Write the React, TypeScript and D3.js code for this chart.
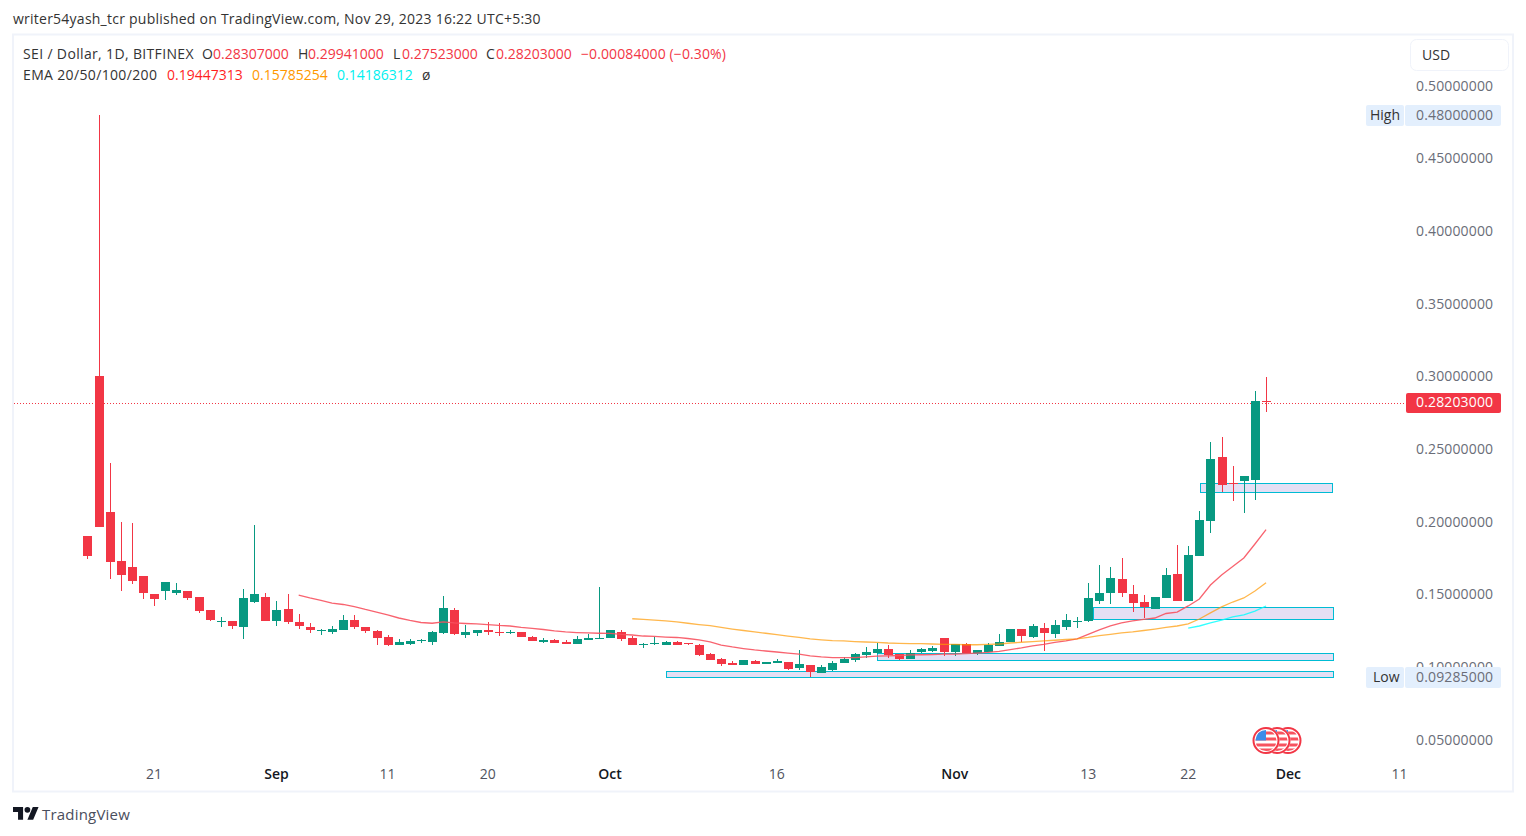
import React from 'react';
import * as d3 from 'd3';

// daily candles, Aug 15 to Nov 29 2023
const opens = [
  .1901, .3001, .2065, .1728, .1687, .1625, .1501, .1522, .1508, .1522, .1481, .1391, .1308, .1315, .1274, .1446, .1481, .1315, .1398, .1308,
  .1274, .1246, .1239, .1253, .1322, .1274, .1246, .1205, .1150, .1157, .1178, .1171, .1232, .1391, .1219, .1232, .1253, .1240, .1232, .1240,
  .1205, .1171, .1185, .1171, .1157, .1185, .1192, .1198, .1240, .1198, .1150, .1157, .1150, .1171, .1164, .1150, .1088, .1054, .1026, .1013,
  .1040, .1020, .1026, .1033, .0992, .1013, .0957, .0978, .1026, .1047, .1081, .1095, .1123, .1088, .1054, .1102, .1109, .1198, .1102, .1157,
  .1095, .1102, .1143, .1171, .1260, .1205, .1267, .1226, .1274, .1308, .1315, .1453, .1508, .1605, .1501, .1446, .1398, .1474, .1639, .1453,
  .1763, .2003, .2444, .2265, .2279, .2286, .28307,
];
const highs = [
  .1901, .4800, .2403, .1996, .1990, .1625, .1501, .1584, .1577, .1522, .1481, .1391, .1343, .1315, .1536, .1976, .1508, .1453, .1501, .1364,
  .1302, .1260, .1281, .1357, .1357, .1274, .1253, .1219, .1192, .1192, .1192, .1246, .1487, .1405, .1288, .1253, .1308, .1302, .1253, .1240,
  .1212, .1198, .1192, .1185, .1212, .1226, .1550, .1253, .1253, .1212, .1164, .1205, .1178, .1178, .1164, .1157, .1095, .1061, .1040, .1047,
  .1047, .1033, .1054, .1033, .1116, .1013, .1013, .1040, .1068, .1095, .1136, .1164, .1150, .1088, .1116, .1129, .1143, .1198, .1157, .1164,
  .1116, .1164, .1226, .1260, .1260, .1295, .1302, .1322, .1364, .1343, .1577, .1701, .1687, .1749, .1563, .1494, .1481, .1680, .1838, .1832,
  .2072, .2547, .2582, .2382, .2313, .2899, .29941,
];
const lows = [
  .1742, .1963, .1605, .1522, .1570, .1467, .1419, .1460, .1494, .1460, .1371, .1315, .1274, .1260, .1192, .1439, .1315, .1281, .1295, .1260,
  .1232, .1219, .1226, .1253, .1260, .1232, .1150, .1143, .1150, .1150, .1164, .1150, .1226, .1219, .1198, .1212, .1219, .1212, .1226, .1205,
  .1178, .1164, .1164, .1157, .1157, .1185, .1192, .1198, .1178, .1150, .1129, .1150, .1150, .1150, .1150, .1075, .1047, .1006, .1013, .1013,
  .1020, .1020, .1026, .0978, .0978, .0929, .0957, .0971, .1026, .1033, .1061, .1088, .1061, .1047, .1054, .1095, .1102, .1075, .1075, .1095,
  .1081, .1102, .1143, .1171, .1171, .1198, .1109, .1198, .1253, .1267, .1308, .1432, .1432, .1481, .1377, .1336, .1398, .1474, .1453, .1453,
  .1763, .1921, .2203, .2141, .2058, .2148, .27523,
];
const closes = [
  .1763, .1963, .1721, .1632, .1591, .1508, .1467, .1584, .1529, .1474, .1384, .1322, .1315, .1281, .1474, .1501, .1315, .1391, .1308, .1281,
  .1253, .1253, .1260, .1322, .1274, .1246, .1198, .1150, .1171, .1178, .1185, .1240, .1405, .1226, .1240, .1253, .1240, .1232, .1240, .1205,
  .1178, .1185, .1164, .1157, .1192, .1198, .1198, .1253, .1192, .1150, .1157, .1164, .1171, .1150, .1157, .1081, .1047, .1020, .1013, .1047,
  .1020, .1033, .1040, .0985, .1020, .0964, .0999, .1026, .1054, .1088, .1102, .1123, .1081, .1054, .1095, .1123, .1129, .1102, .1157, .1095,
  .1116, .1150, .1171, .1260, .1212, .1281, .1232, .1288, .1322, .1315, .1474, .1508, .1611, .1508, .1439, .1412, .1481, .1632, .1453, .1770,
  .2010, .2430, .2252, .2258, .2313, .2830, .28203,
];

// EMA values start part way through the candles
const ema20Start = 19;
const ema20 = [
  .1494, .1474, .1457, .1439, .1429, .1415, .1395, .1377, .1357, .1336, .1319, .1305, .1300, .1309, .1302, .1298, .1295, .1291, .1285, .1281,
  .1271, .1264, .1257, .1247, .1240, .1236, .1233, .1231, .1230, .1223, .1219, .1212, .1209, .1205, .1202, .1195, .1185, .1171, .1150, .1137,
  .1126, .1116, .1109, .1102, .1095, .1088, .1075, .1068, .1064, .1063, .1064, .1069, .1073, .1076, .1078, .1082, .1083, .1084, .1088, .1088,
  .1091, .1095, .1099, .1106, .1119, .1130, .1144, .1154, .1168, .1178, .1192, .1223, .1254, .1281, .1302, .1316, .1326, .1336, .1367, .1377,
  .1419, .1467, .1563, .1632, .1690, .1749, .1845, .19447313,
];
const ema50Start = 49;
const ema50 = [
  .1331, .1326, .1321, .1316, .1309, .1300, .1291, .1283, .1271, .1260, .1250, .1240, .1231, .1221, .1212, .1202, .1192, .1186, .1181, .1178,
  .1174, .1171, .1168, .1164, .1162, .1160, .1159, .1157, .1155, .1154, .1152, .1152, .1155, .1157, .1164, .1169, .1174, .1178, .1183, .1188,
  .1193, .1202, .1215, .1224, .1233, .1240, .1250, .1260, .1271, .1281, .1295, .1329, .1371, .1412, .1446, .1474, .1522, .15785254,
];
const ema100Start = 99;
const ema100 = [.1267, .1281, .1302, .1322, .1343, .1357, .1384, .14186312];

// drawn support zones: first day, last day, upper price, lower price
const zoneStarts = [100.1, 90.4, 71, 52];
const zoneEnds = [112, 112, 112, 112];
const zoneTops = [.2265, .1411, .1092, .0969];
const zoneBottoms = [.2203, .1329, .1042, .0928];

const priceTicks = [.05, .10, .15, .20, .25, .30, .35, .40, .45, .50];
const timeTickDays = [6, 17, 27, 36, 47, 62, 78, 90, 99, 108, 118];
const timeTickLabels = ['21', 'Sep', '11', '20', 'Oct', '16', 'Nov', '13', '22', 'Dec', '11'];
const boldTimeTicks = ['Sep', 'Oct', 'Nov', 'Dec'];

const lastClose = .28203;
const highPrice = .48;
const lowPrice = .09285;

const UP = '#089981';
const DOWN = '#f23645';
const FONT = '"Open Sans", sans-serif';
const TICK_COLOR = '#6a6d78';

const x = d3.scaleLinear().domain([0, 118]).range([87.4, 1399.5]);
const y = d3.scaleLinear().domain([.05, .5]).range([739.5, 85.5]);
const fmt = d3.format('.8f');
const snap = (v: number) => Math.round(v) + 0.5;

const emaLine = (start: number) =>
  d3.line<number>().x((_, i) => x(start + i)).y(d => y(d));

function Label({ px, py, fill = TICK_COLOR, anchor = 'start', weight = 400, size = 14, spacing = 0, children }: any) {
  return (
    <text x={px} y={py} fill={fill} textAnchor={anchor} fontWeight={weight} fontSize={size} fontFamily={FONT} letterSpacing={spacing}>
      {children}
    </text>
  );
}

function Flag({ cx, id }: { cx: number; id: string }) {
  const cy = 740.5;
  return (
    <g>
      <clipPath id={id}><circle cx={cx} cy={cy} r={10.5} /></clipPath>
      <circle cx={cx} cy={cy} r={13.5} fill="#fff" />
      <circle cx={cx} cy={cy} r={12.5} fill="#fff" stroke={DOWN} strokeWidth={2} />
      <g clipPath={`url(#${id})`}>
        {[-9, -3, 3, 8].map(d => (
          <rect key={d} x={cx - 12} y={cy + d} width={24} height={3} fill="#f7525f" />
        ))}
        <rect x={cx - 12} y={cy - 12} width={12} height={12} fill="#3d8ce8" />
      </g>
    </g>
  );
}

export default function App() {
  return (
    <svg width={1526} height={836} style={{ position: 'absolute', left: 0, top: 0, display: 'block', background: '#fff' }}>
      <Label px={13} py={24} fill="#333" spacing={0.24}>writer54yash_tcr published on TradingView.com, Nov 29, 2023 16:22 UTC+5:30</Label>
      <rect x={13} y={34.5} width={1500} height={757} fill="none" stroke="#f0f3fa" strokeWidth={2} />

      {/* zones sit under the candles */}
      {zoneStarts.map((s, i) => (
        <rect key={i} x={snap(x(s))} y={snap(y(zoneTops[i]))}
          width={Math.round(x(zoneEnds[i]) - x(s))} height={Math.round(y(zoneBottoms[i]) - y(zoneTops[i]))}
          fill="#e4dff4" stroke="#00bcd4" strokeWidth={1} />
      ))}

      {/* last price line */}
      <line x1={14} x2={1405} y1={403.5} y2={403.5} stroke={DOWN} strokeWidth={1} strokeDasharray="1,2" />

      {closes.map((c, i) => {
        const color = c >= opens[i] ? UP : DOWN;
        const cx = Math.round(x(i));
        const top = Math.round(y(Math.max(opens[i], c)));
        const bottom = Math.round(y(Math.min(opens[i], c)) + 0.2);
        const hi = Math.round(y(highs[i]));
        const lo = Math.round(y(lows[i]));
        return (
          <g key={i}>
            <rect x={cx} y={hi} width={1} height={lo - hi} fill={color} />
            <rect x={cx - 4} y={top} width={9} height={Math.max(1, bottom - top)} fill={color} />
          </g>
        );
      })}

      <path d={emaLine(ema20Start)(ema20)!} fill="none" stroke="#f7525f" strokeOpacity={0.9} strokeWidth={1.3} />
      <path d={emaLine(ema50Start)(ema50)!} fill="none" stroke="#ff9800" strokeOpacity={0.7} strokeWidth={1.3} />
      <path d={emaLine(ema100Start)(ema100)!} fill="none" stroke="#00ffff" strokeOpacity={0.8} strokeWidth={1.3} />

      {/* legend */}
      <Label px={23} py={59} fill="#333" spacing={0.35}>SEI / Dollar, 1D, BITFINEX</Label>
      <Label px={202} py={59} fill="#333">O</Label>
      <Label px={213} py={59} fill={DOWN}>{fmt(opens[106])}</Label>
      <Label px={298} py={59} fill="#333">H</Label>
      <Label px={308} py={59} fill={DOWN}>{fmt(highs[106])}</Label>
      <Label px={393} py={59} fill="#333">L</Label>
      <Label px={402} py={59} fill={DOWN}>{fmt(lows[106])}</Label>
      <Label px={486} py={59} fill="#333">C</Label>
      <Label px={496} py={59} fill={DOWN}>{fmt(closes[106])}</Label>
      <Label px={581} py={59} fill={DOWN} spacing={0.1}>−0.00084000 (−0.30%)</Label>
      <Label px={23} py={80} fill="#333" spacing={0.35}>EMA 20/50/100/200</Label>
      <Label px={167} py={80} fill="#ff1f1f">{fmt(ema20[ema20.length - 1])}</Label>
      <Label px={252} py={80} fill="#ff9800">{fmt(ema50[ema50.length - 1])}</Label>
      <Label px={337} py={80} fill="#00f0f0">{fmt(ema100[ema100.length - 1])}</Label>
      <Label px={422} py={80} fill="#333">ø</Label>

      {/* currency button */}
      <rect x={1410.5} y={39.5} width={98} height={31} rx={6} fill="#fff" stroke="#f0f3fa" />
      <Label px={1422} py={60} fill="#333">USD</Label>

      {/* price axis */}
      {priceTicks.map(t => (
        <Label key={t} px={1416} py={y(t) + 5} spacing={0.15}>{fmt(t)}</Label>
      ))}
      <rect x={1366} y={105} width={38} height={21} rx={2} fill="#e3effd" />
      <rect x={1405} y={105} width={96} height={21} rx={2} fill="#e3effd" />
      <Label px={1370} py={120} fill="#333">High</Label>
      <Label px={1416} py={y(highPrice) + 5} spacing={0.15}>{fmt(highPrice)}</Label>
      <rect x={1366} y={667} width={38} height={21} rx={2} fill="#e3effd" />
      <rect x={1405} y={667} width={96} height={21} rx={2} fill="#e3effd" />
      <Label px={1373} py={682} fill="#333">Low</Label>
      <Label px={1416} py={682} spacing={0.15}>{fmt(lowPrice)}</Label>
      <rect x={1406} y={393} width={95} height={20} rx={2} fill={DOWN} />
      <Label px={1416} py={y(lastClose) + 5} fill="#fff" spacing={0.15}>{fmt(lastClose)}</Label>

      {/* time axis */}
      {timeTickDays.map((d, i) => {
        const bold = boldTimeTicks.includes(timeTickLabels[i]);
        return (
          <Label key={d} px={x(d)} py={779} anchor="middle" fill={bold ? '#131722' : '#50535e'} weight={bold ? 600 : 400}>
            {timeTickLabels[i]}
          </Label>
        );
      })}

      {/* economic events */}
      <Flag cx={1288} id="flag-c" />
      <Flag cx={1277} id="flag-b" />
      <Flag cx={1266} id="flag-a" />

      {/* branding */}
      <g transform="translate(13,804) scale(0.72)" fill="#131722">
        <path d="M14 22H7V11H0V4h14v18zM28 22h-8l7.5-18h8L28 22z" />
        <circle cx={20} cy={8} r={4} />
      </g>
      <Label px={42} py={820} fill="#4a4e5c" size={15} spacing={0.2}>TradingView</Label>
    </svg>
  );
}
